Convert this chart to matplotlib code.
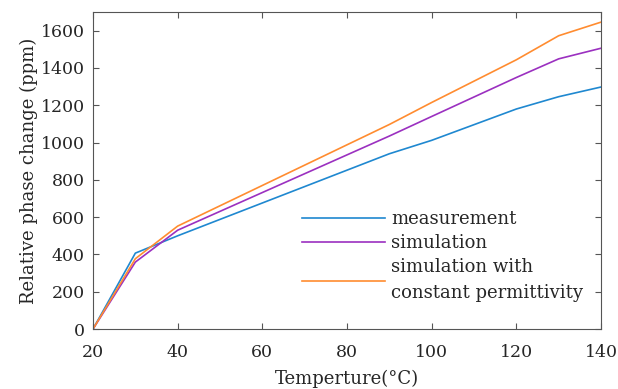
import numpy as np
import matplotlib
matplotlib.use("Agg")
import matplotlib.pyplot as plt

temp = [20, 30, 40, 90, 100, 120, 130, 140]
measurement = [0, 407, 500, 940, 1012, 1180, 1246, 1298]
simulation = [0, 359, 530, 1035, 1140, 1349, 1449, 1506]
sim_const = [0, 377, 552, 1097, 1215, 1444, 1573, 1646]

labels = ["measurement", "simulation", "simulation with\nconstant permittivity"]
xticks = [20, 40, 60, 80, 100, 120, 140]
yticks = [0, 200, 400, 600, 800, 1000, 1200, 1400, 1600]

plt.rcParams['font.family'] = ['DejaVu Serif']
txt = '#262626'

fig = plt.figure(figsize=(6.18, 3.89), dpi=100)
ax = fig.add_axes([0.1505, 0.1542, 0.822, 0.8148])

ax.plot(temp, measurement, color='#1f88d0', lw=1.2, label=labels[0])
ax.plot(temp, simulation, color='#9b30c0', lw=1.2, label=labels[1])
ax.plot(temp, sim_const, color='#ff8c30', lw=1.2, label=labels[2])

ax.set_xlim(20, 140)
ax.set_ylim(0, 1700)
ax.set_xticks(xticks)
ax.set_yticks(yticks)
ax.tick_params(direction='in', top=True, right=True, length=4, width=0.8,
               labelsize=12.5, colors='#555555', labelcolor=txt)
ax.tick_params(axis='x', pad=11)
ax.tick_params(axis='y', pad=6)
for s in ax.spines.values():
    s.set_color('#555555')
    s.set_linewidth(0.8)

ax.set_xlabel('Temperture(°C)', fontsize=13, color=txt, labelpad=6)
ax.set_ylabel('Relative phase change (ppm)', fontsize=13, color=txt, labelpad=2)

leg = ax.legend(loc='lower right', bbox_to_anchor=(0.965, 0.085), frameon=False,
                fontsize=13, handlelength=4.6, handletextpad=0.35,
                labelspacing=0.32, borderaxespad=0, borderpad=0)
for t in leg.get_texts():
    t.set_color(txt)
    t.set_linespacing(1.6)

fig.savefig('out.png', dpi=100)
